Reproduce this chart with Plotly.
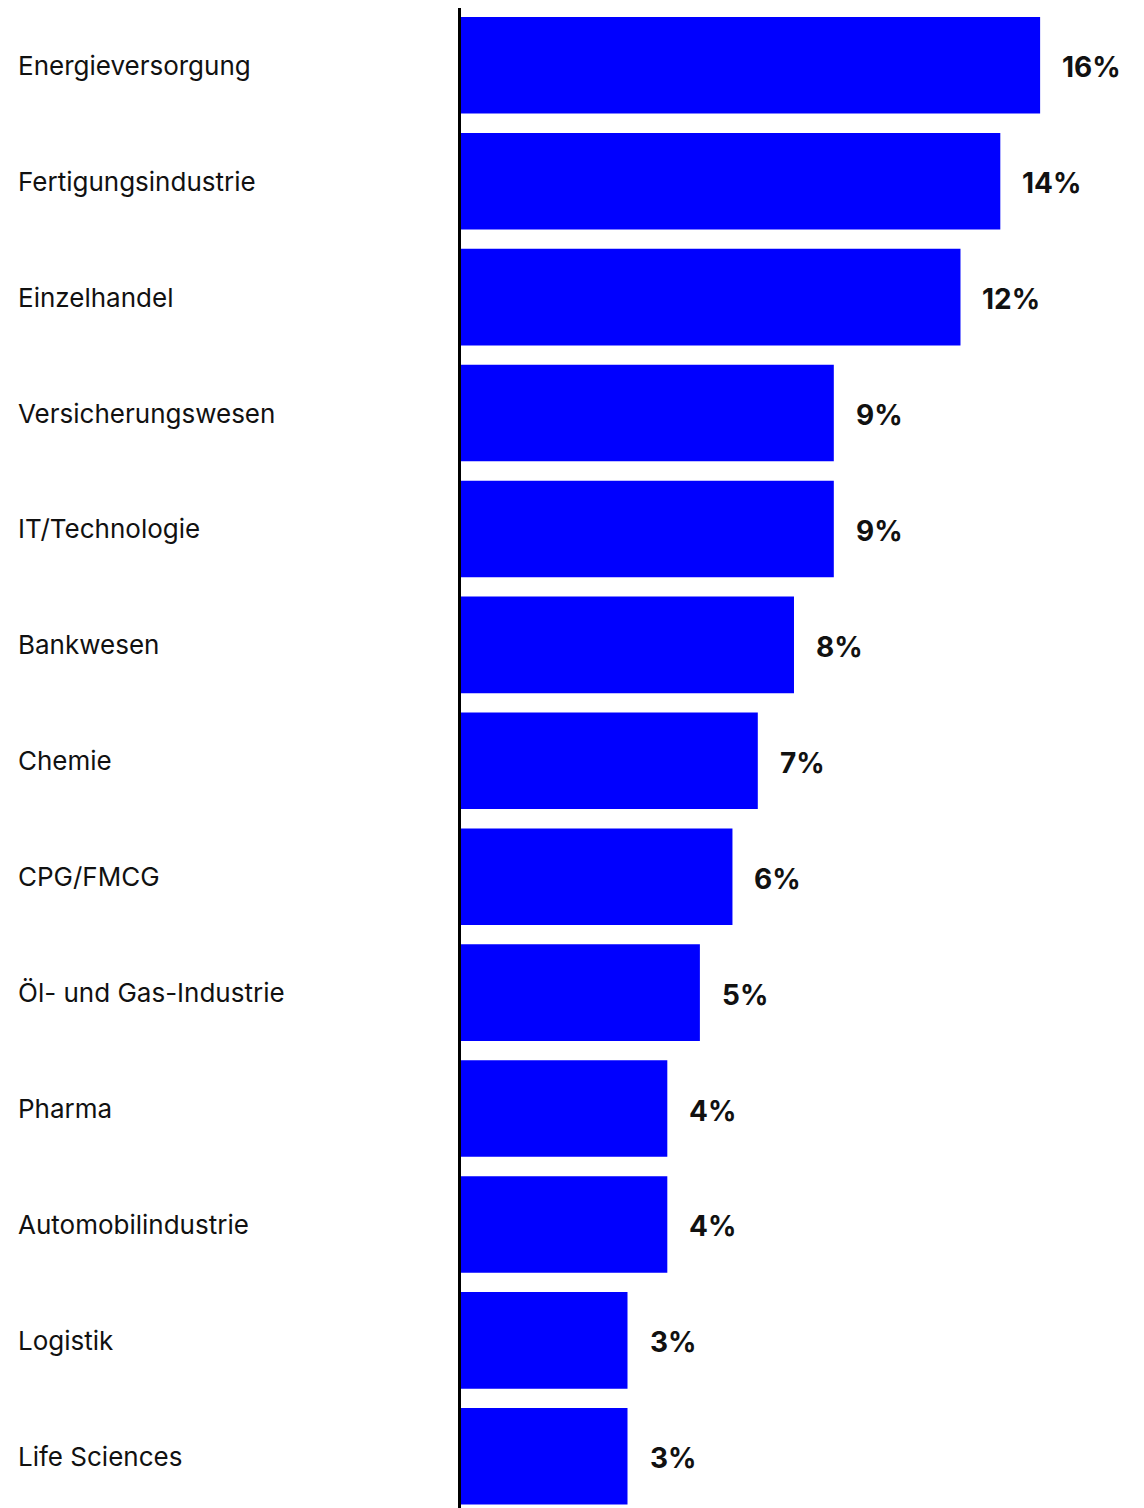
import plotly.graph_objects as go

categories = [
    "Energieversorgung", "Fertigungsindustrie", "Einzelhandel",
    "Versicherungswesen", "IT/Technologie", "Bankwesen", "Chemie",
    "CPG/FMCG", "Öl- und Gas-Industrie", "Pharma", "Automobilindustrie",
    "Logistik", "Life Sciences",
]
# bar lengths (percent scale)
values = [16.0, 14.9, 13.8, 10.3, 10.3, 9.2, 8.2, 7.5, 6.6, 5.7, 5.7, 4.6, 4.6]
# value labels as printed in the picture
labels = ["16%", "14%", "12%", "9%", "9%", "8%", "7%", "6%", "5%", "4%", "4%", "3%", "3%"]

BLUE = "#0000FF"

fig = go.Figure(
    go.Bar(
        x=values,
        y=categories,
        orientation="h",
        marker=dict(color=BLUE, line=dict(width=0)),
        hoverinfo="skip",
    )
)

annotations = []
for cat, v, lab in zip(categories, values, labels):
    annotations.append(dict(
        x=-0.6515, xref="paper", y=cat, yref="y",
        text=cat, showarrow=False, xanchor="left", yanchor="middle",
        font=dict(family="Inter", size=26, color="#111111"),
    ))
    annotations.append(dict(
        x=v, xref="x", y=cat, yref="y",
        text="<b>" + lab + "</b>", showarrow=False, xanchor="left", yanchor="middle",
        xshift=20, yshift=-2,
        font=dict(family="Inter", size=28, color="#111111"),
    ))

fig.update_layout(
    width=1136, height=1500,
    margin=dict(l=453, r=0, t=0, b=0),
    paper_bgcolor="white", plot_bgcolor="white",
    bargap=0.167,
    showlegend=False,
    annotations=annotations,
    xaxis=dict(range=[0, 18.87], visible=False, fixedrange=True),
    yaxis=dict(
        categoryorder="array", categoryarray=categories,
        range=[12.446, -0.494],
        showticklabels=False, ticks="",
        showgrid=False, zeroline=False,
        showline=True, linecolor="#000000", linewidth=2.5,
        fixedrange=True,
    ),
)

fig.write_html("out.html", config={"displayModeBar": False})
